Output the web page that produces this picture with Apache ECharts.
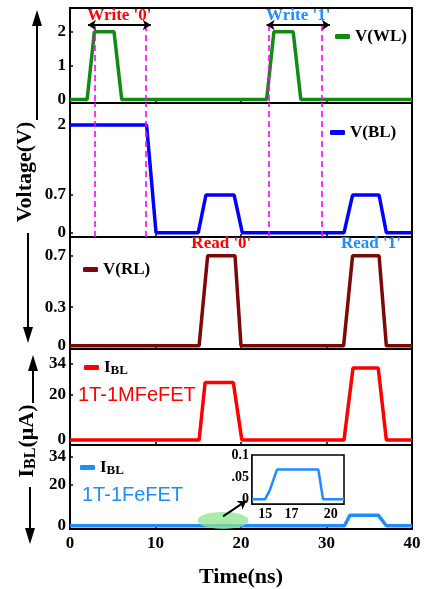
<!DOCTYPE html>
<html><head><meta charset="utf-8">
<script src="https://cdn.jsdelivr.net/npm/echarts@6/dist/echarts.min.js"></script>
<style>html,body{margin:0;padding:0;background:#fff}#c{width:424px;height:589px}</style>
</head><body><div id="c"></div>
<script>
// ---- data ----
const timeTicks = [0, 10, 20, 30, 40];
const wlTime = [0, 2.0, 2.85, 5.15, 6.05, 23.0, 23.85, 26.1, 27.0, 40];
const wlVolt = [0, 0, 2, 2, 0, 0, 2, 2, 0, 0];
const blTime = [0, 8.96, 10.06, 15.0, 15.9, 19.2, 20.15, 32.05, 33.05, 36.15, 37.0, 40];
const blVolt = [2, 2, 0, 0, 0.7, 0.7, 0, 0, 0.7, 0.7, 0, 0];
const rlTime = [0, 15.1, 16.1, 19.3, 20.0, 32.0, 33.05, 36.15, 37.0, 40];
const rlVolt = [0, 0, 0.7, 0.7, 0, 0, 0.7, 0.7, 0, 0];
const mfeTime = [0, 15.1, 15.8, 19.1, 20.1, 32.05, 33.1, 36.05, 37.0, 40];
const mfeCurr = [0, 0, 25.5, 25.5, 0, 0, 32, 32, 0, 0];
const feTime = [0, 32.1, 32.75, 36.05, 37.0, 40];
const feCurr = [0, 0, 5.2, 5.2, 0, 0];
const insetTime = [14, 15.0, 15.35, 15.9, 19.05, 19.4, 21];
const insetCurr = [0, 0, 0.02, 0.067, 0.067, 0, 0];
const wlTicks = [0, 1, 2];
const blTicks = [0, 0.7, 2];
const rlTicks = [0, 0.3, 0.7];
const ibTicks = [0, 20, 34];
const insetXTicks = [15, 17, 20];
const insetYTicks = [0, 0.05, 0.1];
const windowEdges = [2.9, 8.9, 23.3, 29.4];

const zip = (a, b) => a.map((v, i) => [v, b[i]]);
const SERIF = 'Liberation Serif';
const SANS = 'Liberation Sans';
const C = {wl: '#138a13', bl: '#0000ff', rl: '#7d0808', mfe: '#ff0000', fe: '#1e8cff', mag: '#ff00ff'};

const grids = [
  {left: 70, right: 12, top: 8, height: 95},
  {left: 70, right: 12, top: 103, height: 134},
  {left: 70, right: 12, top: 237, height: 112},
  {left: 70, right: 12, top: 349, height: 96},
  {left: 70, right: 12, top: 445, height: 93},
  {left: 252, top: 455, width: 92, height: 49, backgroundColor: '#fff'}
].map((g, i) => Object.assign({show: true, borderColor: '#000', borderWidth: i === 5 ? 1.5 : 2, z: i === 5 ? 5 : 0}, g));

const lblStyle = {color: '#000', fontFamily: SERIF, fontWeight: 'bold', fontSize: 17};

function xAx(i, showLabels) {
  return {
    type: 'value', gridIndex: i, min: 0, max: 40, interval: 10,
    axisLine: {show: true, onZero: false, lineStyle: {color: '#000', width: 2}},
    axisTick: {show: true, inside: true, length: 3, lineStyle: {color: '#000', width: 1.5}},
    axisLabel: Object.assign({show: showLabels, margin: 6}, lblStyle),
    splitLine: {show: false},
    name: showLabels ? 'Time(ns)' : '', nameLocation: 'middle', nameGap: 37,
    nameTextStyle: {color: '#000', fontFamily: SERIF, fontWeight: 'bold', fontSize: 22}
  };
}
function yAx(i, min, max, ticks, fmt) {
  return {
    type: 'value', gridIndex: i, min: min, max: max,
    axisLine: {show: true, onZero: false, lineStyle: {color: '#000', width: 2}},
    axisTick: {show: true, inside: true, length: 3, customValues: ticks, lineStyle: {color: '#000', width: 1.5}},
    axisLabel: Object.assign({show: true, margin: 4, customValues: ticks, formatter: fmt || (v => String(v))}, lblStyle),
    splitLine: {show: false}
  };
}

const xAxes = [0, 1, 2, 3, 4].map(i => xAx(i, i === 4));
xAxes.push({
  type: 'value', gridIndex: 5, min: 14, max: 21,
  axisLine: {show: true, onZero: false, lineStyle: {color: '#000', width: 1.5}},
  axisTick: {show: true, inside: true, length: 3, customValues: insetXTicks, lineStyle: {color: '#000'}},
  axisLabel: {show: true, margin: 3, customValues: insetXTicks, color: '#000', fontFamily: SERIF, fontWeight: 'bold', fontSize: 14},
  splitLine: {show: false}
});
const yAxes = [
  yAx(0, -0.1, 2.7, wlTicks),
  yAx(1, -0.08, 2.41, blTicks),
  yAx(2, -0.025, 0.845, rlTicks),
  yAx(3, -2.2, 40.4, ibTicks),
  yAx(4, -1.6, 39.7, ibTicks),
  {
    type: 'value', gridIndex: 5, min: -0.011, max: 0.1,
    axisLine: {show: true, onZero: false, lineStyle: {color: '#000', width: 1.5}},
    axisTick: {show: false},
    axisLabel: {show: true, margin: 3, customValues: insetYTicks, formatter: v => v === 0 ? '0' : (v === 0.05 ? '.05' : '0.1'),
      color: '#000', fontFamily: SERIF, fontWeight: 'bold', fontSize: 14},
    splitLine: {show: false}
  }
];

function lineSeries(name, idx, data, color, w) {
  return {name: name, type: 'line', xAxisIndex: idx, yAxisIndex: idx, data: data, showSymbol: false, symbol: 'none',
    color: color, lineStyle: {color: color, width: w || 3.5}, z: 3};
}

const dashStyle = {color: C.mag, type: [6, 4], width: 1.6};
const arrowLbl = (txt, col) => ({show: true, formatter: txt, position: 'middle', distance: 1, color: col,
  fontFamily: SERIF, fontWeight: 'bold', fontSize: 17});

const sWL = lineSeries('V(WL)', 0, zip(wlTime, wlVolt), C.wl);
sWL.markLine = {
  silent: true, symbol: ['none', 'none'], label: {show: false},
  data: windowEdges.map(x => [{coord: [x, 2.2], lineStyle: dashStyle}, {coord: [x, -0.1]}]).concat([
    [{coord: [2.1, 2.2], symbol: 'arrow', lineStyle: {color: '#000', type: 'solid', width: 2}, label: arrowLbl("Write '0'", '#ff0000')},
     {coord: [9.45, 2.2], symbol: 'arrow'}],
    [{coord: [23.0, 2.2], symbol: 'arrow', lineStyle: {color: '#000', type: 'solid', width: 2}, label: arrowLbl("Write '1'", C.fe)},
     {coord: [30.4, 2.2], symbol: 'arrow'}]
  ]),
  symbolSize: 8
};
const sBL = lineSeries('V(BL)', 1, zip(blTime, blVolt), C.bl);
sBL.markLine = {silent: true, symbol: ['none', 'none'], label: {show: false}, lineStyle: dashStyle,
  data: windowEdges.map(x => ({xAxis: x}))};
const sRL = lineSeries('V(RL)', 2, zip(rlTime, rlVolt), C.rl);
const readLbl = (txt, col) => ({show: true, formatter: txt, position: 'top', distance: 3, color: col,
  fontFamily: SERIF, fontWeight: 'bold', fontSize: 17});
sRL.markPoint = {silent: true, symbol: 'rect', symbolSize: 1, itemStyle: {color: 'rgba(0,0,0,0)'},
  data: [{coord: [17.7, 0.7], label: readLbl("Read '0'", '#ff0000')}, {coord: [35.2, 0.7], label: readLbl("Read '1'", C.fe)}]};
const sMFE = lineSeries('IBL1', 3, zip(mfeTime, mfeCurr), C.mfe);
const sFE = lineSeries('IBL2', 4, zip(feTime, feCurr), C.fe);
sFE.markPoint = {silent: true, symbol: 'circle', symbolSize: [51, 17], itemStyle: {color: 'rgba(140,230,140,0.75)'},
  label: {show: false}, data: [{coord: [17.9, 2.6]}], z: 4};
sFE.markLine = {silent: true, symbol: ['none', 'arrow'], symbolSize: 8, label: {show: false},
  lineStyle: {color: '#000', type: 'solid', width: 2},
  data: [[{coord: [17.9, 4.6]}, {coord: [20.6, 12.2]}]]};
const sIn = lineSeries('inset', 5, zip(insetTime, insetCurr), C.fe, 2.5);
sIn.z = 6;

const legTxt = {color: '#000', fontFamily: SERIF, fontWeight: 'bold', fontSize: 17,
  rich: {sub: {fontFamily: SERIF, fontWeight: 'bold', fontSize: 13, padding: [7, 0, 0, 0], color: '#000'}}};
function leg(name, left, top, fmt) {
  return {data: [name], left: left, top: top, icon: 'roundRect', itemWidth: 15, itemHeight: 5, itemGap: 0,
    selectedMode: false, padding: 0, textStyle: legTxt, formatter: fmt || (n => n)};
}

const ylTitle = {fontFamily: SERIF, fontWeight: 'bold', fontSize: 22, fill: '#000'};
function vArrow(x, y1, y2, up) {
  // y1: tail, y2: tip
  const head = 16, hw = 5;
  const base = up ? y2 + head : y2 - head;
  return [
    {type: 'line', shape: {x1: x, y1: y1, x2: x, y2: base}, style: {stroke: '#000', lineWidth: 2}},
    {type: 'polygon', shape: {points: [[x, y2], [x - hw, base], [x + hw, base]]}, style: {fill: '#000'}}
  ];
}

const option = {
  animation: false,
  backgroundColor: '#fff',
  grid: grids,
  xAxis: xAxes,
  yAxis: yAxes,
  legend: [
    leg('V(WL)', 335, 28),
    leg('V(BL)', 330, 124),
    leg('V(RL)', 83, 261),
    leg('IBL1', 84, 359, () => 'I{sub|BL}'),
    leg('IBL2', 80, 459, () => 'I{sub|BL}')
  ],
  series: [sWL, sBL, sRL, sMFE, sFE, sIn],
  graphic: [
    {type: 'text', x: 25, y: 172, rotation: Math.PI / 2, style: Object.assign({text: 'Voltage(V)', align: 'center', verticalAlign: 'middle'}, ylTitle)},
    {type: 'text', x: 27, y: 441, rotation: Math.PI / 2, style: Object.assign({
      text: 'I{sub|BL}(μA)', align: 'center', verticalAlign: 'middle',
      rich: {sub: {fontFamily: SERIF, fontWeight: 'bold', fontSize: 16, padding: [8, 0, 0, 0], fill: '#000'}}}, ylTitle)},
    {type: 'text', x: 78, y: 395, style: {text: '1T-1MFeFET', fill: '#ff0000', fontFamily: SANS, fontSize: 20, verticalAlign: 'middle'}},
    {type: 'text', x: 82, y: 495, style: {text: '1T-1FeFET', fill: C.fe, fontFamily: SANS, fontSize: 20, verticalAlign: 'middle'}}
  ].concat(vArrow(37, 120, 10, true), vArrow(28, 233, 343, false), vArrow(33, 403, 355, true), vArrow(30, 487, 544, false))
};

const chart = echarts.init(document.getElementById('c'), null, {renderer: 'canvas'});
chart.setOption(option);
</script></body></html>
